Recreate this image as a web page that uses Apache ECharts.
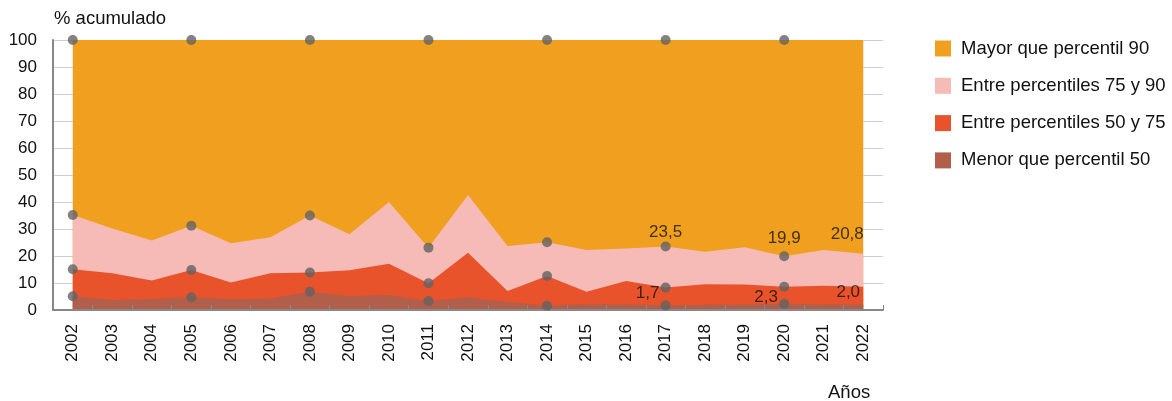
<!DOCTYPE html>
<html>
<head>
<meta charset="utf-8">
<script src="https://cdn.jsdelivr.net/npm/echarts@6/dist/echarts.min.js"></script>
<style>
  html, body { margin: 0; padding: 0; background: #fff; }
  #chart { width: 1172px; height: 401px; }
</style>
</head>
<body>
<div id="chart"></div>
<script>
// % acumulado por tramo de percentil, 2002-2022

const years = ['2002', '2003', '2004', '2005', '2006', '2007', '2008', '2009', '2010', '2011', '2012',
  '2013', '2014', '2015', '2016', '2017', '2018', '2019', '2020', '2021', '2022'];

// límites superiores acumulados de cada tramo
const hasta50 = [5.1, 3.7, 4.1, 4.7, 4.0, 4.3, 6.8, 5.2, 5.6, 3.3, 4.7,
  3.0, 1.6, 2.2, 2.1, 1.7, 1.9, 2.1, 2.3, 2.1, 2.0];
const hasta75 = [15.1, 13.6, 10.9, 14.8, 10.2, 13.6, 13.9, 14.7, 17.1, 9.9, 21.2,
  7.0, 12.6, 6.8, 10.7, 8.3, 9.5, 9.4, 8.6, 9.0, 8.6];
const hasta90 = [35.2, 30.2, 25.7, 31.2, 24.7, 26.9, 35.0, 28.1, 40.0, 23.1, 42.6,
  23.7, 25.1, 22.2, 22.8, 23.5, 21.6, 23.2, 19.9, 22.2, 20.8];
const total = years.map(() => 100);

const yTicks = [0, 10, 20, 30, 40, 50, 60, 70, 80, 90, 100];

const nombres = ['Mayor que percentil 90', 'Entre percentiles 75 y 90',
  'Entre percentiles 50 y 75', 'Menor que percentil 50'];
const colores = ['#F0A01E', '#F6BBB6', '#E9532B', '#B15E4B'];

// años con puntos grises
const anosPunto = ['2002', '2005', '2008', '2011', '2014', '2017', '2020'];
// etiquetas: [año, serie, dx, distancia]
const etiquetas = [
  ['2017', hasta90, 0, 6],
  ['2020', hasta90, 0, 9],
  ['2022', hasta90, -16, 11],
  ['2017', hasta50, -18, 4],
  ['2020', hasta50, -18, -2],
  ['2022', hasta50, -15, 4],
];

const FONT = 'Liberation Sans, Arial, Helvetica, sans-serif';
const INK = '#111111';
const fmt = v => v.toFixed(1).replace('.', ',');

const capas = [total, hasta90, hasta75, hasta50];

const areaSeries = capas.map((d, i) => ({
  name: nombres[i],
  type: 'line',
  data: d,
  symbol: 'none',
  lineStyle: { width: 0 },
  itemStyle: { color: colores[i] },
  areaStyle: { color: colores[i], opacity: 1 },
  emphasis: { disabled: true },
  z: 2,
}));

const puntos = [];
anosPunto.forEach(a => {
  const idx = years.indexOf(a);
  capas.forEach(d => puntos.push([a, d[idx]]));
});

const chart = echarts.init(document.getElementById('chart'));
chart.setOption({
  animation: false,
  textStyle: { fontFamily: FONT },
  grid: { left: 53, right: 289, top: 40, bottom: 91, containLabel: false },
  legend: {
    data: nombres,
    orient: 'vertical',
    left: 930,
    top: 34,
    itemWidth: 16,
    itemHeight: 16,
    itemGap: 18.3,
    icon: 'rect',
    textStyle: { fontSize: 18.5, color: INK, fontFamily: FONT, padding: [0, 0, 0, 5] },
  },
  xAxis: {
    type: 'category',
    data: years,
    boundaryGap: true,
    z: 5,
    axisLine: { lineStyle: { color: '#888888', width: 2 } },
    axisTick: { show: true, inside: true, length: 5, lineStyle: { color: '#888888', width: 1 } },
    axisLabel: { rotate: 90, fontSize: 17, color: INK, margin: 14, fontFamily: FONT },
    splitLine: { show: false },
  },
  yAxis: {
    type: 'value',
    min: yTicks[0],
    max: yTicks[yTicks.length - 1],
    interval: 10,
    axisLine: { show: true, lineStyle: { color: '#888888', width: 2 } },
    axisTick: { show: false },
    axisLabel: { fontSize: 17, color: INK, margin: 16, fontFamily: FONT },
    splitLine: { lineStyle: { color: '#cfcfcf', width: 1 } },
  },
  graphic: [
    { type: 'text', left: 54, top: 9, style: { text: '% acumulado', font: '18.5px ' + FONT, fill: INK } },
    { type: 'text', left: 828, top: 383, style: { text: 'Años', font: '18.5px ' + FONT, fill: INK } },
  ],
  series: [
    ...areaSeries,
    {
      name: 'puntos',
      type: 'scatter',
      data: puntos,
      symbolSize: 10,
      itemStyle: { color: '#636363' },
      emphasis: { disabled: true },
      z: 6,
    },
    {
      name: 'etiquetas',
      type: 'scatter',
      symbolSize: 0,
      z: 7,
      data: etiquetas.map(([a, serie, dx, dist]) => ({
        value: [a, serie[years.indexOf(a)]],
        label: {
          show: true,
          position: 'top',
          distance: dist,
          offset: [dx, 0],
          formatter: p => fmt(p.value[1]),
          fontSize: 17,
          color: INK,
          fontFamily: FONT,
        },
      })),
    },
  ],
});
</script>
</body>
</html>
